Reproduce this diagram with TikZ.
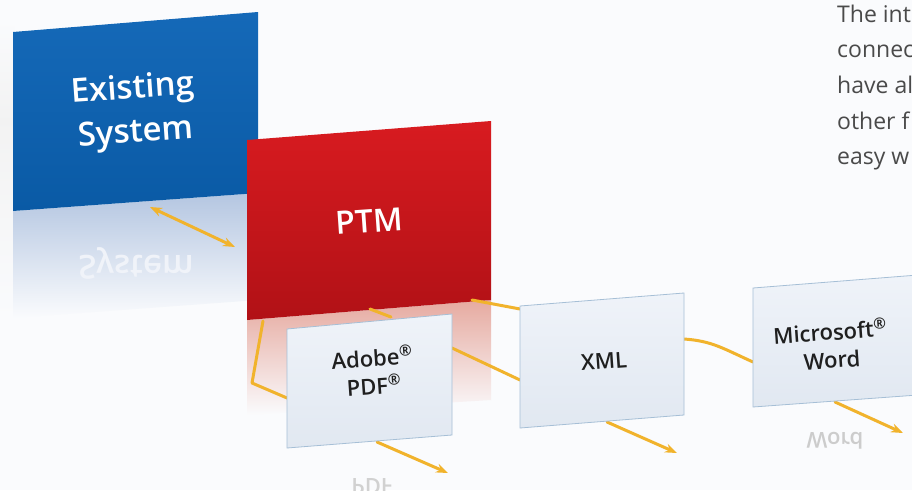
\documentclass[tikz,border=0pt]{standalone}
\usepackage{fontspec}
\setmainfont{Open Sans}
\IfFontExistsTF{Open Sans SemiBold}{\newfontfamily\semib{Open Sans SemiBold}}{%
  \IfFontExistsTF{Open Sans Semibold}{\newfontfamily\semib{Open Sans Semibold}}{\newcommand\semib{\bfseries}}}
\usetikzlibrary{arrows.meta}
\definecolor{bg}{HTML}{FAFBFD}
\definecolor{conn}{HTML}{F1B32C}
\definecolor{blueT}{HTML}{1569B8}
\definecolor{blueB}{HTML}{0A5AA5}
\definecolor{redT}{HTML}{D81B20}
\definecolor{redB}{HTML}{B11116}
\definecolor{lightT}{HTML}{EFF3F9}
\definecolor{lightB}{HTML}{E1E8F1}
\definecolor{lightEdge}{HTML}{A6BFD6}
\definecolor{bodytext}{HTML}{4A4A4A}
\tikzset{
  conline/.style={draw=conn, line width=3pt, line cap=round, line join=round},
  conarrow/.style={conline, -{Stealth[length=12pt,width=9pt]}},
  condouble/.style={conline, {Stealth[length=12pt,width=9pt]}-{Stealth[length=12pt,width=9pt]}},
  lightpanel/.style={top color=lightT, bottom color=lightB, draw=lightEdge, line width=0.8pt},
  darklabel/.style={text=white, font=\fontsize{33}{44}\selectfont\semib, align=center, rotate=4},
  lightlabel/.style={text=black!88, font=\fontsize{22}{28}\selectfont\semib, align=center, rotate=4},
  mirror/.style={yscale=-1, align=center},
  bodyline/.style={anchor=base west, text=bodytext, font=\fontsize{23}{28}\selectfont, inner sep=0pt}
}
\begin{document}
\begin{tikzpicture}[x=1pt,y=-1pt]
\useasboundingbox (0,0) rectangle (912,490);
\clip (0,0) rectangle (912,490);
\fill[bg] (0,0) rectangle (912,490);

% soft shadow left of the blue panel
\shade[top color=bg, bottom color=black!5] (0,20) rectangle (14,120);
\shade[top color=black!5, bottom color=bg] (0,120) rectangle (14,320);

% reflections
\shade[top color={rgb,255:red,180;green,198;blue,225}, bottom color=bg]
  (13,211) -- (258,193) -- (258,300) -- (13,318) -- cycle;
\node[mirror, text={rgb,255:red,240;green,243;blue,249}, font=\fontsize{33}{38}\selectfont\semib] (sysrefl) at (136,263) {System};
\shade[top color={rgb,255:red,230;green,170;blue,160}, bottom color=bg]
  (247,320) -- (491,300) -- (491,400) -- (247,415) -- cycle;
\node[mirror, text=black!18, font=\fontsize{22}{27}\selectfont\semib] (pdfrefl) at (372,486) {PDF};
\node[mirror, text=black!20, font=\fontsize{22}{27}\selectfont\semib] (wordrefl) at (835,441) {Word};

% blue panel
\shade[top color=blueT, bottom color=blueB] (13,32) -- (258,12) -- (258,193) -- (13,211) -- cycle;
\node[darklabel] (existing) at (134,112) {Existing\\System};

% red panel
\shade[top color=redT, bottom color=redB] (247,140) -- (491,121) -- (491,300) -- (247,320) -- cycle;
\node[darklabel, font=\fontsize{32}{38}\selectfont\semib] (ptm) at (369,221) {PTM};

% connector end points
\coordinate (esOut) at (150,207);
\coordinate (ptmIn) at (235,247);
\coordinate (ptmA) at (263,321);
\coordinate (bendA) at (252,383);
\coordinate (pdfL) at (287,398);
\coordinate (ptmB) at (370,309);
\coordinate (pdfT) at (391,317);
\coordinate (ptmC) at (472,300);
\coordinate (xmlT) at (520,309);
\coordinate (pdfR) at (452,348);
\coordinate (xmlL) at (520,380);
\coordinate (xmlR) at (684,339);
\coordinate (wordL) at (753,362);
\coordinate (pdfOut) at (377,442);
\coordinate (pdfEnd) at (448,473);
\coordinate (xmlOut) at (607,422);
\coordinate (xmlEnd) at (677,453);
\coordinate (wordOut) at (835,402);
\coordinate (wordEnd) at (903,433);

% connectors
\draw[condouble] (esOut) -- (ptmIn);
\draw[conline] (ptmA) -- (bendA) -- (pdfL);
\draw[conline] (ptmB) -- (pdfT);
\draw[conline] (ptmC) -- (xmlT);
\draw[conline] (pdfR) -- (xmlL);
\draw[conline] (xmlR) .. controls (712,341) and (722,348) .. (wordL);
\draw[conarrow] (pdfOut) -- (pdfEnd);
\draw[conarrow] (xmlOut) -- (xmlEnd);
\draw[conarrow] (wordOut) -- (wordEnd);

% light panels
\path[lightpanel] (287,329) -- (452,314) -- (452,435) -- (287,448) -- cycle;
\node[lightlabel] (pdf) at (373,371) {Adobe\textsuperscript{®}\\PDF\textsuperscript{®}};
\path[lightpanel] (520,306) -- (684,293) -- (684,415) -- (520,428) -- cycle;
\node[lightlabel] (xml) at (604,361) {XML};
\path[lightpanel] (753,288) -- (918,275) -- (918,395) -- (753,407) -- cycle;
\node[lightlabel] (word) at (831,345) {Microsoft\textsuperscript{®}\\Word};

% body text (cut at the right edge)
\node[bodyline] (l1) at (837,22) {The int};
\node[bodyline] (l2) at (837,57) {connec};
\node[bodyline] (l3) at (837,93) {have al};
\node[bodyline] (l4) at (837,129) {other f};
\node[bodyline] (l5) at (837,164) {easy w};
\end{tikzpicture}
\end{document}
